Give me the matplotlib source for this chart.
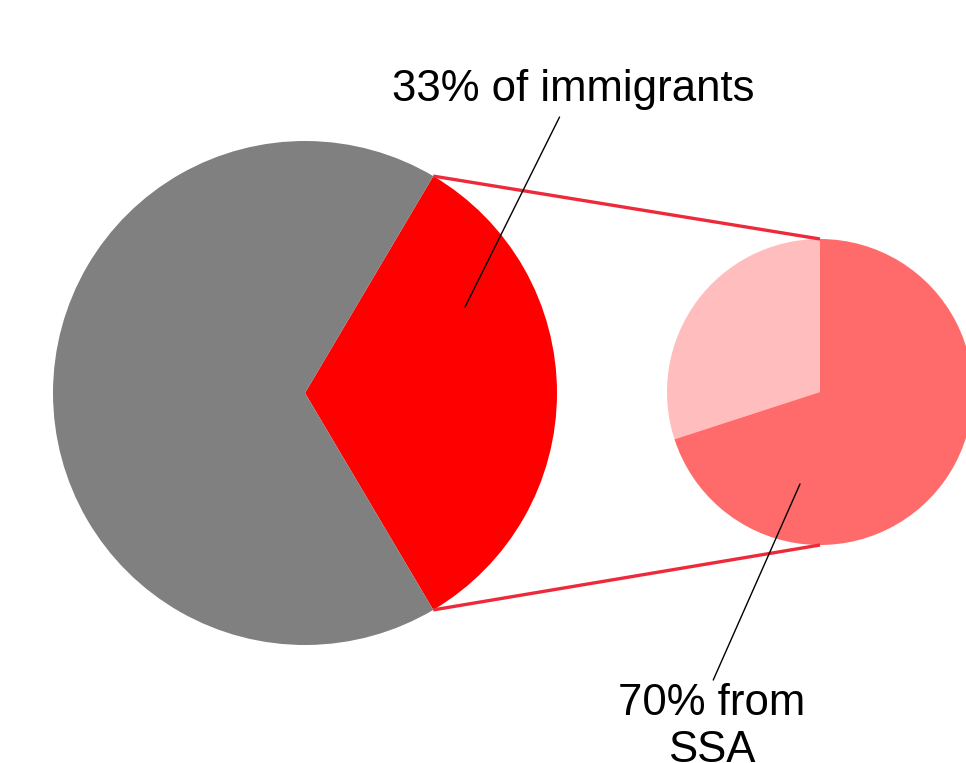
import numpy as np
import matplotlib
matplotlib.use("Agg")
import matplotlib.pyplot as plt

# Data
main_labels = ["Immigrants", "Non-immigrants"]
main_values = [33, 67]
sub_labels = ["Other origin", "From SSA"]
sub_values = [30, 70]
main_annotation = "33% of immigrants"
sub_annotation = "70% from\nSSA"

W, H = 966, 763
fig = plt.figure(figsize=(W / 100, H / 100), dpi=100)
ax = fig.add_axes([0, 0, 1, 1])
plt.rcParams['font.family'] = ['Liberation Sans', 'DejaVu Sans']

big_c, big_r = (305, 370), 252
small_c, small_r = (820, 371), 153

# big pie: immigrant wedge centred on the right
half = 360 * main_values[0] / sum(main_values) / 2
ax.pie(main_values, colors=["#ff0000", "#808080"], startangle=-half,
       counterclock=True, center=big_c, radius=big_r,
       wedgeprops=dict(linewidth=0))
# small pie
ax.pie(sub_values, colors=["#ffbdbd", "#ff6b6b"], startangle=90,
       counterclock=True, center=small_c, radius=small_r,
       wedgeprops=dict(linewidth=0))

# connector lines
t = np.deg2rad(half)
for s in (1, -1):
    x0 = big_c[0] + big_r * np.cos(t)
    y0 = big_c[1] + s * big_r * np.sin(t)
    x1 = small_c[0]
    y1 = small_c[1] + s * small_r
    ax.plot([x0, x1], [y0, y1], color="#ee2a3a", lw=2.4, solid_capstyle="butt")

ax.annotate(main_annotation, xy=(465, H - 307), xytext=(573, H - 90),
            ha="center", va="center", fontsize=31.5,
            arrowprops=dict(arrowstyle="-", color="black", lw=1,
                            shrinkA=3, shrinkB=0))
ax.annotate(sub_annotation, xy=(800, H - 484), xytext=(712, H - 727),
            ha="center", va="center", fontsize=31.5,
            arrowprops=dict(arrowstyle="-", color="black", lw=1,
                            shrinkA=0, shrinkB=0, relpos=(0.5, 1.0)))

ax.set_xlim(0, W)
ax.set_ylim(0, H)
ax.set_aspect("equal")
ax.axis("off")
fig.savefig("out.png", dpi=100)
